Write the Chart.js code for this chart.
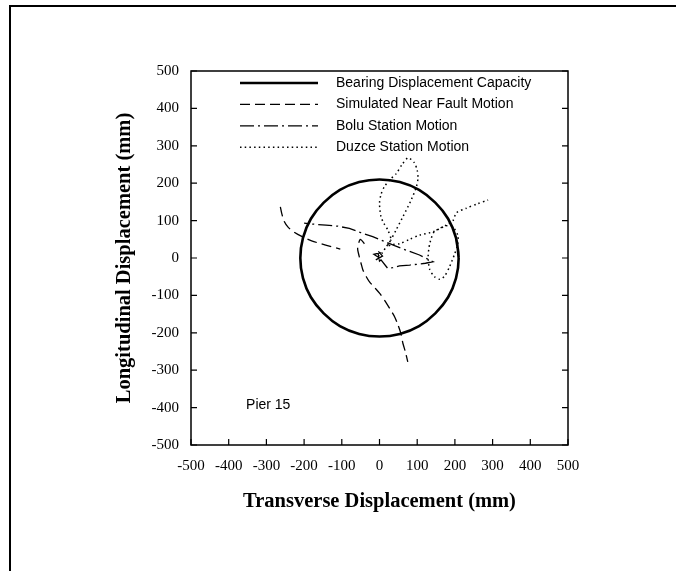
<!DOCTYPE html>
<html>
<head>
<meta charset="utf-8">
<script src="https://cdn.jsdelivr.net/npm/chart.js@4.4.1/dist/chart.umd.min.js"></script>
<style>
  body { margin: 0; background: #fff; }
  #wrap { position: relative; width: 676px; height: 571px; overflow: hidden; }
  #frame { position: absolute; left: 9px; top: 5px; width: 700px; height: 600px; border-top: 2px solid #000; border-left: 2px solid #000; }
  canvas { position: absolute; left: 0; top: 0; }
</style>
</head>
<body>
<div id="wrap">
  <div id="frame"></div>
  <canvas id="orbitChart" width="676" height="571"></canvas>
</div>
<script>
// axis ticks (mm)
const tickValues = [-500, -400, -300, -200, -100, 0, 100, 200, 300, 400, 500];

const seriesLabels = ['Bearing Displacement Capacity', 'Simulated Near Fault Motion', 'Bolu Station Motion', 'Duzce Station Motion'];

// bearing capacity circle (radius ~210 mm)
const capacityX = [210, 203, 182, 148, 105, 54, 0, -54, -105, -148, -182, -203, -210, -203, -182, -148, -105, -54, 0, 54, 105, 148, 182, 203, 210, 203];
const capacityY = [0, 54, 105, 148, 182, 203, 210, 203, 182, 148, 105, 54, 0, -54, -105, -148, -182, -203, -210, -203, -182, -148, -105, -54, 0, 54];

// simulated near fault orbit (null = pen up)
const nearFaultX = [-263, -259, -253, -242, -225, -205, -180, -145, -104, null, -40, -51, -58, -54, -49, -44, -35, -27, -12, 0, 14, 27, 40, 49, 57, 62, 69, 75];
const nearFaultY = [137, 118, 98, 82, 68, 57, 46, 35, 24, null, 38, 50, 26, 5, -14, -32, -50, -63, -80, -94, -114, -135, -157, -179, -203, -228, -252, -278];

// Bolu record orbit
const boluX = [0, -15, 5, -10, 8, -5, 0, 4, 22, 35, 53, 80, 106, 122, 142, 124, 106, 71, 40, -18, -50, -80, -110, -142, -170, -200];
const boluY = [0, 10, 15, -5, 5, 20, -8, -5, -28, -26, -21, -19, -16, -14, -10, -1, 8, 21, 33, 57, 68, 79, 85, 88, 90, 93];

// Duzce record orbit
const duzceX = [0, 8, 18, 30, 22, 12, 4, 0, 4, 13, 28, 44, 60, 76, 92, 100, 102, 98, 84, 62, 44, 30, 20, 35, 53, 80, 106, 142, 177, 195, 208, 207, 199, 186, 173, 160, 146, 133, 129, 133, 145, 177, 195, 204, 230, 260, 288];
const duzceY = [0, 15, 30, 50, 75, 92, 110, 146, 170, 191, 210, 225, 250, 268, 255, 235, 213, 191, 155, 110, 75, 48, 32, 36, 38, 50, 61, 70, 86, 82, 60, 35, 10, -23, -48, -57, -50, -30, 3, 37, 70, 88, 100, 121, 133, 145, 155];

const pierLabel = 'Pier 15';
const pierLabelAt = [-354, -393];

const serifFont = "'Liberation Serif', 'Times New Roman', serif";
const sansFont = "'Liberation Sans', Arial, sans-serif";

function toPoints(xs, ys) {
    return xs.map((x, i) => ({ x: x, y: ys[i] }));
}

function linha(label, xs, ys, width, dash, tension) {
    return {
        label: label,
        data: toPoints(xs, ys),
        showLine: true,
        borderColor: '#000',
        backgroundColor: '#000',
        borderWidth: width,
        borderDash: dash,
        pointRadius: 0,
        pointHoverRadius: 0,
        fill: false,
        tension: tension,
        spanGaps: false
    };
}

const datasets = [
    linha(seriesLabels[0], capacityX, capacityY, 2.6, [], 0.4),
    linha(seriesLabels[1], nearFaultX, nearFaultY, 1.3, [10, 5], 0.25),
    linha(seriesLabels[2], boluX, boluY, 1.3, [14, 4, 2, 4], 0),
    linha(seriesLabels[3], duzceX, duzceY, 1.5, [1.5, 3.2], 0.25)
];

// box, inward ticks, legend and note
const moldura = {
    id: 'moldura',
    afterDraw(chart) {
        const ctx = chart.ctx;
        const a = chart.chartArea;
        const sx = chart.scales.x;
        const sy = chart.scales.y;
        ctx.save();
        ctx.strokeStyle = '#000';
        ctx.setLineDash([]);
        ctx.lineWidth = 1.5;
        ctx.strokeRect(a.left, a.top, a.right - a.left, a.bottom - a.top);

        ctx.lineWidth = 1.2;
        ctx.beginPath();
        tickValues.forEach(v => {
            const px = sx.getPixelForValue(v);
            ctx.moveTo(px, a.bottom);
            ctx.lineTo(px, a.bottom - 6);
            const py = sy.getPixelForValue(v);
            ctx.moveTo(a.left, py);
            ctx.lineTo(a.left + 6, py);
            ctx.moveTo(a.right, py);
            ctx.lineTo(a.right - 6, py);
        });
        ctx.stroke();

        // legend
        ctx.font = '14px ' + sansFont;
        ctx.fillStyle = '#000';
        ctx.textBaseline = 'middle';
        ctx.textAlign = 'left';
        chart.data.datasets.forEach((ds, i) => {
            const ly = a.top + 12 + i * 21.4;
            ctx.lineWidth = ds.borderWidth;
            ctx.setLineDash(ds.borderDash);
            ctx.beginPath();
            ctx.moveTo(a.left + 49, ly);
            ctx.lineTo(a.left + 127, ly);
            ctx.stroke();
            ctx.fillText(ds.label, a.left + 145, ly);
        });

        ctx.setLineDash([]);
        ctx.fillText(pierLabel, sx.getPixelForValue(pierLabelAt[0]), sy.getPixelForValue(pierLabelAt[1]));
        ctx.restore();
    }
};

const ctx = document.getElementById('orbitChart').getContext('2d');
window.grafico = new Chart(ctx, {
    type: 'scatter',
    data: { datasets: datasets },
    options: {
        responsive: false,
        animation: false,
        layout: { padding: { top: 71, right: 108, left: 0, bottom: 0 } },
        plugins: {
            legend: { display: false },
            tooltip: { enabled: false }
        },
        scales: {
            x: {
                type: 'linear',
                min: -500,
                max: 500,
                afterBuildTicks: s => { s.ticks = tickValues.map(v => ({ value: v })); },
                afterFit: s => { s.height = 126; },
                grid: { display: false },
                border: { display: false },
                ticks: { color: '#000', padding: 4, maxRotation: 0, font: { family: serifFont, size: 15 } },
                title: {
                    display: true,
                    text: 'Transverse Displacement (mm)',
                    color: '#000',
                    font: { family: serifFont, size: 20.5, weight: 'bold' },
                    padding: { top: 0, bottom: 57 }
                }
            },
            y: {
                type: 'linear',
                min: -500,
                max: 500,
                afterBuildTicks: s => { s.ticks = tickValues.map(v => ({ value: v })); },
                afterFit: s => { s.width = 191; },
                grid: { display: false },
                border: { display: false },
                ticks: { color: '#000', padding: 4, font: { family: serifFont, size: 15 } },
                title: {
                    display: true,
                    text: 'Longitudinal Displacement (mm)',
                    color: '#000',
                    font: { family: serifFont, size: 20.5, weight: 'bold' },
                    padding: { top: 112, bottom: 0 }
                }
            }
        }
    },
    plugins: [moldura]
});
</script>
</body>
</html>
